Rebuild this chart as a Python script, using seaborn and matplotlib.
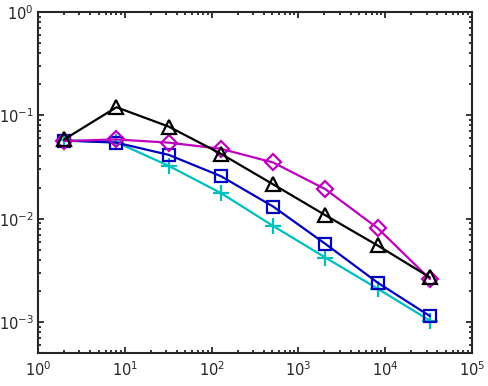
import numpy as np
import pandas as pd
import seaborn as sns
import matplotlib
matplotlib.use("Agg")
import matplotlib.pyplot as plt
from matplotlib.ticker import LogLocator, NullFormatter

# datos
n = [2, 8, 32, 128, 512, 2048, 8192, 32768]
err_cyan = [0.0575, 0.0550, 0.0325, 0.0177, 0.0085, 0.0042, 0.0021, 0.00103]
err_blue = [0.0570, 0.0545, 0.0415, 0.0258, 0.0131, 0.0057, 0.0024, 0.00114]
err_magenta = [0.0565, 0.0585, 0.0545, 0.0475, 0.0350, 0.0193, 0.0081, 0.0026]
err_black = [0.0585, 0.1200, 0.0780, 0.0425, 0.0215, 0.0108, 0.0055, 0.0027]

sns.set_style("ticks")
plt.rcParams['font.family'] = ['DejaVu Sans']

fig = plt.figure(figsize=(4.88, 3.86), dpi=100)
ax = fig.add_axes([0.078, 0.0855, 0.889, 0.883])

series = [
    (err_cyan, '#00BFBF', '+', 11),
    (err_blue, '#0000BF', 's', 8),
    (err_magenta, '#BF00BF', 'D', 8),
    (err_black, 'black', '^', 10),
]
for vals, col, mk, ms in series:
    sns.lineplot(x=n, y=vals, ax=ax, color=col, linewidth=1.6, marker=mk,
                 markersize=ms, markerfacecolor='none', markeredgecolor=col,
                 markeredgewidth=1.6, zorder=3)

ax.set_xscale('log')
ax.set_yscale('log')
ax.set_xlim(1, 1e5)
ax.set_ylim(5e-4, 1)

ax.xaxis.set_major_locator(LogLocator(base=10, numticks=10))
ax.yaxis.set_major_locator(LogLocator(base=10, numticks=10))
ax.xaxis.set_minor_locator(LogLocator(base=10, subs=np.arange(2, 10), numticks=20))
ax.yaxis.set_minor_locator(LogLocator(base=10, subs=np.arange(2, 10), numticks=20))
ax.xaxis.set_minor_formatter(NullFormatter())
ax.yaxis.set_minor_formatter(NullFormatter())

dark = '#262626'
for s in ax.spines.values():
    s.set_visible(True)
    s.set_linewidth(1.5)
    s.set_color(dark)
ax.tick_params(which='both', direction='in', top=True, right=True, colors=dark,
               labelcolor=dark, labelsize=10.5, width=1.3)
ax.tick_params(which='major', length=4)
ax.tick_params(axis='y', which='major', pad=3)
ax.tick_params(axis='x', which='major', pad=5)
ax.tick_params(which='minor', length=2.5)

fig.savefig('out.png', dpi=100)
